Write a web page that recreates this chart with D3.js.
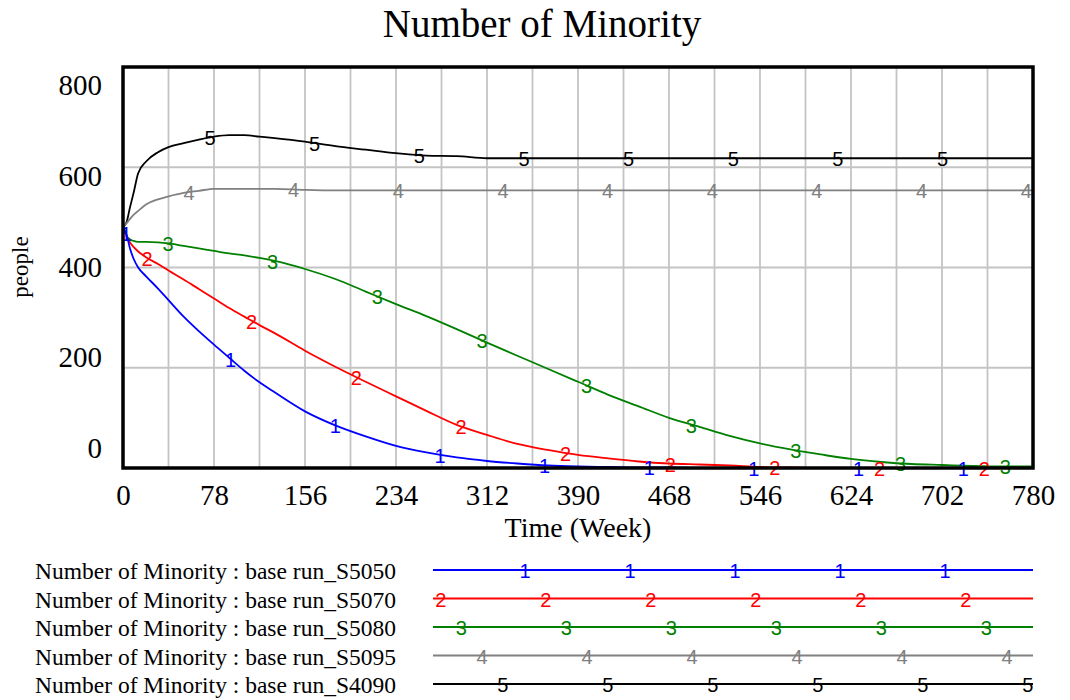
<!DOCTYPE html>
<html>
<head>
<meta charset="utf-8">
<script src="https://d3js.org/d3.v7.min.js"></script>
<style>
  body { margin: 0; background: #fff; }
  svg text { font-family: "Liberation Serif", "Times New Roman", serif; fill: #000; }
  svg text.mark { font-family: "Liberation Sans", Arial, sans-serif; }
</style>
</head>
<body>
<svg id="chart" width="1070" height="700"></svg>
<script>
// time axis (weeks) shared by every run
const weeks = [0, 3, 6, 9, 13, 20, 30, 39, 52, 65,
    78, 91, 104, 117, 130, 156, 182, 208, 234, 260,
    286, 312, 338, 364, 390, 416, 442, 468, 494, 520,
    546, 572, 598, 624, 650, 676, 702, 728, 754, 780];

// Number of Minority per run
const runS5050 = [481, 466, 438, 418, 400, 382, 358, 335, 302, 273,
    246, 220, 194, 171, 151, 113, 85, 63, 44, 31,
    21, 14, 9, 5, 3, 2, 1, 1, 0, 0,
    0, 0, 0, 0, 0, 0, 0, 0, 0, 0];
const runS5070 = [481, 462, 450, 441, 432, 420, 407, 394, 376, 357,
    338, 319, 302, 285, 269, 234, 202, 172, 143, 114,
    86, 66, 48, 36, 26, 19, 13, 9, 7, 5,
    2, 1, 0, 0, 0, 0, 0, 0, 0, 0];
const runS5080 = [481, 463, 456, 453, 451, 451, 450, 448, 443, 438,
    433, 428, 424, 419, 413, 397, 377, 352, 327, 303,
    277, 250, 224, 198, 172, 146, 123, 100, 82, 64,
    49, 37, 27, 18, 12, 8, 6, 4, 3, 3];
const runS5095 = [481, 488, 497, 505, 513, 526, 536, 542, 549, 553,
    557, 557, 557, 557, 557, 555, 554, 554, 554, 554,
    554, 554, 554, 554, 554, 554, 554, 554, 554, 554,
    554, 554, 554, 554, 554, 554, 554, 554, 554, 554];
const runS4090 = [481, 490, 520, 548, 588, 612, 630, 640, 648, 655,
    661, 664, 664, 661, 658, 651, 642, 635, 628, 623,
    622, 618, 618, 618, 618, 618, 618, 618, 618, 618,
    618, 618, 618, 618, 618, 618, 618, 618, 618, 618];

const runNames = ["base run_S5050", "base run_S5070", "base run_S5080", "base run_S5095", "base run_S4090"];
const runColors = ["#0000ff", "#ff0000", "#008000", "#808080", "#000000"];
const xTickValues = [0, 78, 156, 234, 312, 390, 468, 546, 624, 702, 780];
const yTickValues = [0, 200, 400, 600, 800];

const runs = [runS5050, runS5070, runS5080, runS5095, runS4090].map((vals, i) => ({
    id: i + 1, name: runNames[i], color: runColors[i], values: vals
}));

const svg = d3.select("#chart");
const plot = { left: 123, right: 1033, top: 67, bottom: 468 };

const x = d3.scaleLinear().domain([0, 780]).range([plot.left, plot.right]);
const y = d3.scaleLinear().domain([0, 800]).range([plot.bottom, plot.top]);
// vensim spreads the value labels evenly, not on the grid lines
const yLabel = d3.scaleLinear().domain([0, 800]).range([448, 85]);

// title
svg.append("text")
    .attr("x", 542).attr("y", 37)
    .attr("text-anchor", "middle")
    .style("font-size", "39px")
    .text("Number of Minority");

// grid
const grid = svg.append("g").attr("stroke", "#c4c4c4").attr("stroke-width", 1.8);
grid.selectAll("line.v").data(d3.range(39, 780, 39)).join("line")
    .attr("class", "v")
    .attr("x1", d => x(d)).attr("x2", d => x(d))
    .attr("y1", plot.top).attr("y2", plot.bottom);
grid.selectAll("line.h").data([200, 400, 600]).join("line")
    .attr("class", "h")
    .attr("x1", plot.left).attr("x2", plot.right)
    .attr("y1", d => y(d)).attr("y2", d => y(d));

// axes labels
const xAxis = svg.append("g")
    .attr("transform", `translate(0,${plot.bottom})`)
    .call(d3.axisBottom(x).tickValues(xTickValues).tickSize(0).tickFormat(d3.format("d")));
xAxis.select(".domain").remove();
xAxis.selectAll("text")
    .attr("y", 37).attr("dy", null)
    .style("font-family", "Liberation Serif, serif")
    .style("font-size", "29px");

const yAxis = svg.append("g")
    .attr("transform", "translate(102,0)")
    .call(d3.axisLeft(yLabel).tickValues(yTickValues).tickSize(0).tickPadding(0).tickFormat(d3.format("d")));
yAxis.select(".domain").remove();
yAxis.selectAll("text")
    .attr("dy", "0.33em")
    .style("font-family", "Liberation Serif, serif")
    .style("font-size", "29px");

svg.append("text")
    .attr("x", 578).attr("y", 537)
    .attr("text-anchor", "middle")
    .style("font-size", "28px")
    .text("Time (Week)");

svg.append("text")
    .attr("transform", "translate(28,267) rotate(-90)")
    .attr("text-anchor", "middle")
    .style("font-size", "23px")
    .text("people");

// lines, run 1 ends up on top
const line = d3.line().curve(d3.curveMonotoneX).x((d, i) => x(weeks[i])).y(d => y(d));
svg.append("g").selectAll("path").data(runs.slice().reverse()).join("path")
    .attr("d", d => line(d.values))
    .attr("fill", "none")
    .attr("stroke", d => d.color)
    .attr("stroke-width", 1.8);

// numbered markers along each run
const valueAt = (vals, t) => {
    const i = d3.bisectRight(weeks, t);
    if (i >= weeks.length) return vals[vals.length - 1];
    const f = (t - weeks[i - 1]) / (weeks[i] - weeks[i - 1]);
    return d3.interpolateNumber(vals[i - 1], vals[i])(f);
};
const markStart = 2.6, markShift = 18, markStep = 89.7;
runs.forEach((run, k) => {
    const times = d3.range(markStart + markShift * k, 781, markStep);
    svg.append("g").selectAll("text").data(times).join("text")
        .attr("class", "mark")
        .attr("x", t => x(t))
        .attr("y", t => y(valueAt(run.values, t)) + 8)
        .attr("text-anchor", "middle")
        .style("font-size", "20px")
        .style("fill", run.color)
        .text(run.id);
});

// frame
svg.append("rect")
    .attr("x", plot.left).attr("y", plot.top)
    .attr("width", plot.right - plot.left).attr("height", plot.bottom - plot.top)
    .attr("fill", "none").attr("stroke", "#000").attr("stroke-width", 3.5);

// legend
const legend = svg.append("g").selectAll("g").data(runs).join("g")
    .attr("transform", (d, i) => `translate(0,${570 + i * 28.5})`);
legend.append("text")
    .attr("x", 35).attr("y", 9)
    .style("font-size", "23.5px")
    .text(d => "Number of Minority : " + d.name);
legend.append("line")
    .attr("x1", 433).attr("x2", 1033)
    .attr("stroke", d => d.color).attr("stroke-width", 1.8);
legend.each(function(d, k) {
    const xs = d3.range(420 + 20.7 * k, 1034, 105).filter(v => v >= 433);
    d3.select(this).selectAll("text.mark").data(xs).join("text")
        .attr("class", "mark")
        .attr("x", v => v).attr("y", 8)
        .attr("text-anchor", "middle")
        .style("font-size", "20px")
        .style("fill", d.color)
        .text(d.id);
});
</script>
</body>
</html>
